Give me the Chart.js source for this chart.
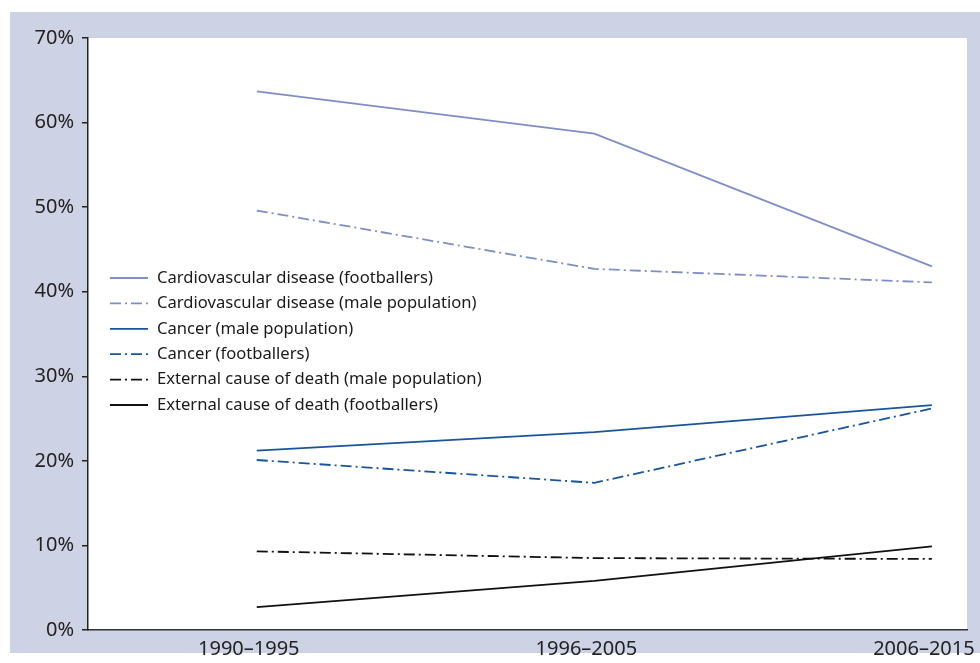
<!DOCTYPE html>
<html>
<head>
<meta charset="utf-8">
<script src="https://cdn.jsdelivr.net/npm/chart.js@4.4.1/dist/chart.umd.min.js"></script>
<style>
  html, body { margin: 0; padding: 0; background: #fff; }
  #wrap { width: 980px; height: 663px; position: relative; }
</style>
</head>
<body>
<div id="wrap"><canvas id="chart"></canvas></div>
<script>
const periods = ['1990–1995', '1996–2005', '2006–2015'];
const yTicks = [0, 10, 20, 30, 40, 50, 60, 70];

const seriesNames = [
  'Cardiovascular disease (footballers)',
  'Cardiovascular disease (male population)',
  'Cancer (male population)',
  'Cancer (footballers)',
  'External cause of death (male population)',
  'External cause of death (footballers)'
];
const cardioFootballers = [63.7, 58.7, 43.0];
const cardioMale = [49.6, 42.7, 41.1];
const cancerMale = [21.2, 23.4, 26.6];
const cancerFootballers = [20.1, 17.4, 26.2];
const externalMale = [9.3, 8.5, 8.4];
const externalFootballers = [2.7, 5.8, 9.9];

const lightBlue = '#7f8ec6';
const darkBlue = '#1a559c';
const black = '#111111';
const dashDot = [11, 4, 2, 4];

function makeSet(name, values, color, dash) {
  return {
    label: name,
    data: values.map((v, i) => ({ x: i, y: v })),
    borderColor: color,
    backgroundColor: color,
    borderWidth: 1.8,
    borderDash: dash,
    pointRadius: 0,
    tension: 0,
    fill: false
  };
}

const datasets = [
  makeSet(seriesNames[0], cardioFootballers, lightBlue, []),
  makeSet(seriesNames[1], cardioMale, lightBlue, dashDot),
  makeSet(seriesNames[2], cancerMale, darkBlue, []),
  makeSet(seriesNames[3], cancerFootballers, darkBlue, dashDot),
  makeSet(seriesNames[4], externalMale, black, dashDot),
  makeSet(seriesNames[5], externalFootballers, black, [])
];

const frame = {
  id: 'frame',
  beforeDraw(chart) {
    const { ctx, chartArea } = chart;
    ctx.save();
    ctx.fillStyle = '#ced2e5';
    ctx.fillRect(10, 12, chart.width - 10, 641);
    ctx.fillStyle = '#ffffff';
    ctx.fillRect(chartArea.left, chartArea.top, chartArea.right - chartArea.left, chartArea.bottom - chartArea.top);
    ctx.restore();
  }
};

// legend sits inside the plot, left side
const innerLegend = {
  id: 'innerLegend',
  afterDraw(chart) {
    const { ctx } = chart;
    ctx.save();
    ctx.font = '16.6px "Noto Sans"';
    ctx.textBaseline = 'middle';
    chart.data.datasets.forEach((ds, i) => {
      const y = 278 + i * 25.4;
      ctx.strokeStyle = ds.borderColor;
      ctx.lineWidth = 1.8;
      ctx.setLineDash(ds.borderDash);
      ctx.beginPath();
      ctx.moveTo(110, y);
      ctx.lineTo(148, y);
      ctx.stroke();
      ctx.setLineDash([]);
      ctx.fillStyle = '#1a1a1a';
      ctx.fillText(ds.label, 157, y);
    });
    ctx.restore();
  }
};

new Chart(document.getElementById('chart'), {
  type: 'line',
  data: { datasets },
  plugins: [frame, innerLegend],
  options: {
    responsive: true,
    maintainAspectRatio: false,
    animation: false,
    layout: { padding: { top: 38, right: 13, left: 0, bottom: 0 } },
    plugins: { legend: { display: false }, tooltip: { enabled: false } },
    scales: {
      x: {
        type: 'linear',
        min: -0.5,
        max: 2.104,
        afterFit: (s) => { s.height = 33; s.paddingLeft = 0; s.paddingRight = 0; },
        afterBuildTicks: (s) => { s.ticks = periods.map((p, i) => ({ value: i })); },
        grid: { display: false, drawTicks: false },
        border: { color: '#333', width: 1.5 },
        ticks: {
          callback: (v) => periods[v],
          color: '#222',
          font: { family: 'Noto Sans', size: 20 },
          padding: 7,
          labelOffset: -8,
          maxRotation: 0
        }
      },
      y: {
        min: 0,
        max: 70,
        afterFit: (s) => { s.width = 88; },
        afterBuildTicks: (s) => { s.ticks = yTicks.map((v) => ({ value: v })); },
        grid: { drawOnChartArea: false, drawTicks: true, tickLength: 6, color: '#222', lineWidth: 1.5 },
        border: { color: '#222', width: 1.5 },
        ticks: {
          callback: (v) => v + '%',
          color: '#222',
          font: { family: 'Noto Sans', size: 20 },
          padding: 8
        }
      }
    }
  }
});
</script>
</body>
</html>
